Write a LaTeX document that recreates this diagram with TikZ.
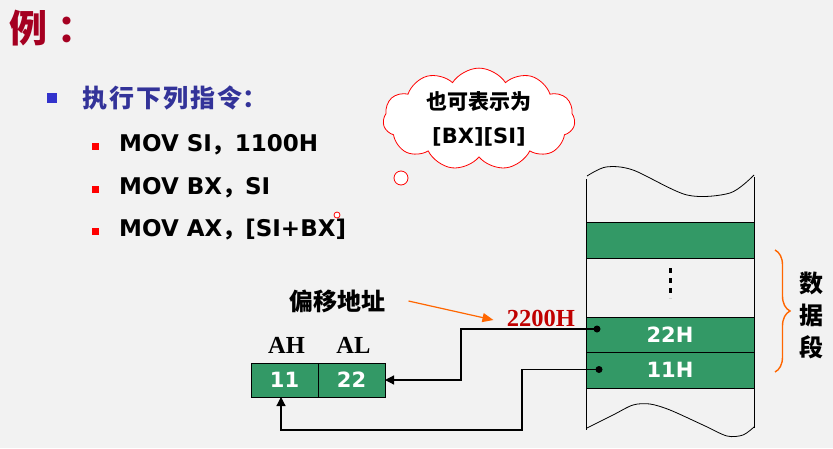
\documentclass[tikz,border=0pt]{standalone}
\usepackage{fontspec}
\setmainfont{DejaVu Sans}
\newfontfamily\cjk{Noto Sans CJK SC}
\newfontfamily\timesbold{Liberation Serif}
\usepackage{tikz}
\usetikzlibrary{arrows.meta,positioning,shapes.symbols,decorations.pathreplacing}
\definecolor{bggray}{HTML}{F2F2F2}
\definecolor{cellgreen}{HTML}{339966}
\definecolor{titlered}{HTML}{A50021}
\definecolor{navy}{HTML}{333399}
\definecolor{bulletblue}{HTML}{3333CC}
\definecolor{hintorange}{HTML}{FF6600}
\definecolor{addrred}{HTML}{C00000}

\begin{document}
\begin{tikzpicture}[
  x=1pt, y=-1pt,
  instr/.style={anchor=base west, inner sep=0pt, font=\fontsize{23}{25}\selectfont\bfseries},
  redbullet/.style={fill=red, minimum width=7pt, minimum height=7pt, inner sep=0pt},
  cell/.style={draw, thick, fill=cellgreen, text=white, inner sep=0pt, outer sep=0pt,
    font=\fontsize{21}{23}\selectfont\bfseries},
  memrow/.style={cell, minimum width=168pt, minimum height=35.5pt},
  regcell/.style={cell, minimum width=67pt, minimum height=34pt},
  reglabel/.style={font=\timesbold\fontsize{24.5}{26}\selectfont\bfseries},
  zhlabel/.style={font=\cjk\fontsize{24}{32}\selectfont\bfseries, align=center},
  bubble/.style={circle, draw=red, thick, fill=white, inner sep=0pt},
  dot/.style={circle, fill, inner sep=0pt, minimum size=7pt},
  arrow/.style={-{Triangle[length=9pt,width=9pt]}, line width=1.2pt}
]
\useasboundingbox (0,0) rectangle (833,448);
\fill[bggray] (0,0) rectangle (833,448);

% heading and instructions
\node[anchor=west, inner sep=0pt, text=titlered, font=\cjk\fontsize{38}{40}\selectfont\bfseries] (title) at (9,28) {例\hspace{10pt}：};
\node[fill=bulletblue, minimum size=10pt, inner sep=0pt] (bluebullet) at (52,98) {};
\node[anchor=west, inner sep=0pt, text=navy, font=\cjk\fontsize{25}{27}\selectfont\bfseries] (task) at (82,98) {执\hspace{2pt}行\hspace{2pt}下\hspace{2pt}列\hspace{2pt}指\hspace{2pt}令：};

\node[redbullet] (b1) at (95,146) {};
\node[redbullet] (b2) at (95,189) {};
\node[redbullet] (b3) at (95,231) {};
\node[instr] (ins1) at (119,151.5) {MOV SI{\cjk，}1100H};
\node[instr] (ins2) at (119,194) {MOV BX{\cjk，}SI};
\node[instr] (ins3) at (119,236.5) {MOV AX{\cjk，}[SI+BX]};

% thought cloud
\node[cloud, cloud puffs=11, cloud puff arc=115, aspect=2.3, draw=red, thick, fill=white,
  minimum width=192pt, minimum height=82pt, align=center, inner sep=0pt,
  font=\fontsize{21}{34}\selectfont\bfseries] (cloud) at (479,119)
  {{\cjk 也可表示为}\\{[BX][SI]}};
\node[bubble, minimum size=14pt] (bub1) at (401,178) {};
\node[bubble, minimum size=6pt] (bub2) at (337,215) {};

% memory column
\draw[thick] (586,179) -- (586,430);
\draw[thick] (754,177) -- (754,428);
\draw[thick] plot[smooth] coordinates {(587,176) (606,167) (633,170) (687,195) (730,193) (754,175)};
\draw[thick] plot[smooth] coordinates {(587,428) (613,415) (633,405) (650,404) (670,410) (703,425) (727,436) (743,435) (754,427)};
\node[memrow] (mtop) at (670,240.5) {};
\draw[line width=3pt, dash pattern=on 5pt off 5pt] (670,268) -- (670,298);
\node[memrow] (m22) at (670,334.75) {22H};
\node[memrow] (m11) at (670,370.25) {11H};
\node[dot] (d22) at (597,329) {};
\node[dot] (d11) at (599,369.5) {};

\draw[hintorange, line width=1.4pt, decorate, decoration={brace, amplitude=15pt}] (775,250) -- (775,372);
\node[zhlabel] (seg) at (811,315) {数\\据\\段};

% register AX
\node[regcell] (ah) at (284.5,380) {11};
\node[regcell, right=0pt of ah] (al) {22};
\node[reglabel] (ahname) at (286.5,345) {AH};
\node[reglabel] (alname) at (353.5,345) {AL};

\node[zhlabel] (offset) at (337,301) {偏移地址};
\node[reglabel, text=addrred] (addr) at (541,318) {2200H};
\draw[hintorange, very thick, -{Triangle[length=11pt,width=9pt]}] ([xshift=20pt]offset.east) -- ([xshift=-10pt,yshift=-2pt]addr.west);

\draw[arrow] (d22.center) -- ++(-136,0) |- (al.east);
\draw[arrow] (d11.center) -- ++(-77,0) -- ++(0,60.5) -| ([xshift=-3.5pt]ah.south);

\end{tikzpicture}
\end{document}
